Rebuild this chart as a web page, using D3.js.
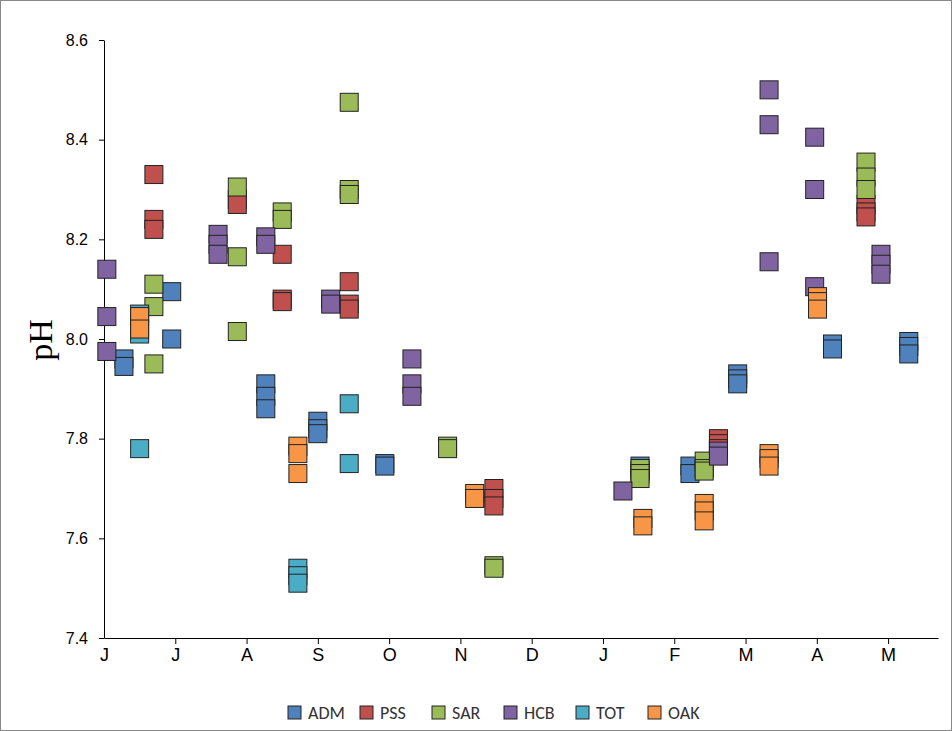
<!DOCTYPE html>
<html><head><meta charset="utf-8">
<script src="https://cdn.jsdelivr.net/npm/d3@7"></script>
<style>body{margin:0;background:#fff;font-family:Calibri,Carlito,"Liberation Sans",Arial,sans-serif}</style>
</head><body><svg id="c" width="952" height="731"></svg>
<script>
const series = ["ADM","PSS","SAR","HCB","TOT","OAK"];
const colors = ["#4F81BD","#C0504D","#9BBB59","#8064A2","#4BACC6","#F79646"];
const monthLabels = ["J","J","A","S","O","N","D","J","F","M","A","M"];
const yTicks = [7.4,7.6,7.8,8.0,8.2,8.4,8.6];
// [month position (0 = start of June), pH]
const ADM = [[0.28,7.96],[0.28,7.945],[0.95,8.095],[0.95,8.0],[2.27,7.91],[2.27,7.885],[2.27,7.86],[3.0,7.835],[3.0,7.82],[3.0,7.81],[3.94,7.75],[3.94,7.745],[7.52,7.745],[7.52,7.735],[8.22,7.745],[8.22,7.73],[8.89,7.93],[8.89,7.92],[8.89,7.91],[10.22,7.99],[10.22,7.98],[11.29,7.995],[11.29,7.985],[11.29,7.97]];
const PSS = [[0.7,8.33],[0.7,8.24],[0.7,8.22],[1.87,8.28],[1.87,8.27],[2.5,8.17],[2.5,8.08],[2.5,8.075],[3.44,8.115],[3.44,8.07],[3.44,8.06],[5.47,7.70],[5.47,7.68],[5.47,7.665],[8.62,7.80],[8.62,7.79],[8.62,7.78],[10.69,8.27],[10.69,8.255],[10.69,8.245]];
const SAR = [[0.7,8.11],[0.7,8.065],[0.7,7.95],[1.87,8.305],[1.87,8.165],[1.87,8.015],[2.5,8.255],[2.5,8.24],[3.44,8.475],[3.44,8.30],[3.44,8.29],[4.82,7.785],[4.82,7.78],[5.47,7.545],[5.47,7.54],[7.52,7.74],[7.52,7.73],[7.52,7.72],[8.42,7.755],[8.42,7.74],[8.42,7.735],[10.69,8.355],[10.69,8.325],[10.69,8.30]];
const HCB = [[0.04,8.14],[0.04,8.045],[0.04,7.975],[1.6,8.21],[1.6,8.19],[1.6,8.17],[2.27,8.205],[2.27,8.19],[3.18,8.08],[3.18,8.07],[4.32,7.96],[4.32,7.91],[4.32,7.885],[7.28,7.695],[8.62,7.775],[8.62,7.765],[9.33,8.50],[9.33,8.43],[9.33,8.155],[9.97,8.405],[9.97,8.30],[9.97,8.105],[10.9,8.17],[10.9,8.15],[10.9,8.13]];
const TOT = [[0.5,8.05],[0.5,8.01],[0.5,7.78],[2.72,7.54],[2.72,7.525],[2.72,7.51],[3.44,7.87],[3.44,7.75]];
const OAK = [[0.5,8.045],[0.5,8.02],[2.72,7.785],[2.72,7.77],[2.72,7.73],[5.2,7.69],[5.2,7.68],[7.56,7.64],[7.56,7.625],[8.42,7.67],[8.42,7.655],[8.42,7.635],[9.33,7.77],[9.33,7.76],[9.33,7.745],[10.01,8.085],[10.01,8.075],[10.01,8.06]];
const data = [ADM,PSS,SAR,HCB,TOT,OAK];

const svg = d3.select("#c");
svg.append("rect").attr("x",0.5).attr("y",0.5).attr("width",951).attr("height",730).attr("fill","#fff").attr("stroke","#888");
const x = d3.scaleLinear().domain([0,11.7]).range([104,938]);
const y = d3.scaleLinear().domain([7.4,8.6]).range([638,40]);

const ya = svg.append("g").attr("transform","translate(104,0)")
  .call(d3.axisLeft(y).tickValues(yTicks).tickFormat(d3.format(".1f")).tickSize(5).tickSizeOuter(0));
ya.selectAll("text").attr("font-size",16).attr("fill","#000").attr("dx",-8);
ya.select(".domain").attr("stroke","#000");
ya.selectAll("line").attr("stroke","#000");

const xa = svg.append("g").attr("transform","translate(0,638)")
  .call(d3.axisBottom(x).tickValues(d3.range(0,12)).tickFormat((d,i)=>monthLabels[i]).tickSize(6).tickSizeOuter(0));
xa.selectAll("text").attr("font-size",18).attr("fill","#000").attr("dy",14);
xa.select(".domain").attr("stroke","#000");
xa.selectAll("line").attr("stroke","#000");
xa.selectAll(".tick").filter(d=>d===0).select("line").remove();

svg.append("text").attr("transform","translate(52,340) rotate(-90)").attr("text-anchor","middle")
  .attr("font-family","'Liberation Serif','DejaVu Serif',serif").attr("font-size",34).text("pH");

const s = 18;
data.forEach((arr,i)=>{
  svg.append("g").selectAll("rect").data(arr).join("rect")
    .attr("x",d=>x(d[0])-s/2).attr("y",d=>y(d[1])-s/2).attr("width",s).attr("height",s)
    .attr("fill",colors[i]).attr("stroke","#222").attr("stroke-width",1);
});

const lg = svg.append("g");
const lx0 = 288, step = 72;
series.forEach((n,i)=>{
  const g = lg.append("g").attr("transform",`translate(${lx0+i*step},713)`);
  g.append("rect").attr("x",0).attr("y",-7).attr("width",13).attr("height",13).attr("fill",colors[i]).attr("stroke","#222");
  g.append("text").attr("x",20).attr("y",6).attr("font-size",18).attr("fill","#333").text(n);
});
</script></body></html>
